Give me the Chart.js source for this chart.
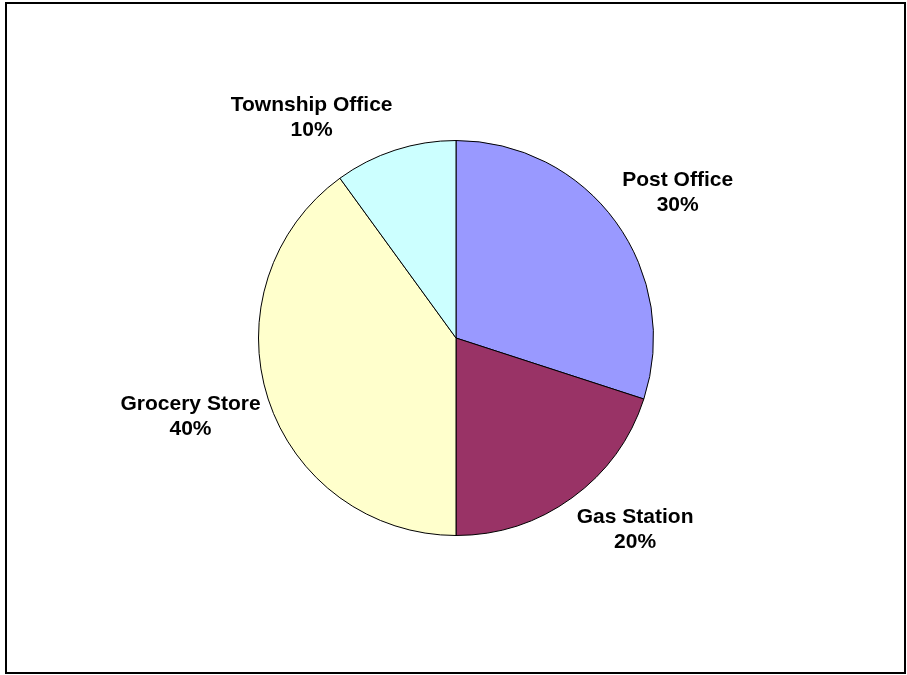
<!DOCTYPE html>
<html>
<head>
<meta charset="utf-8">
<script src="https://cdn.jsdelivr.net/npm/chart.js@4/dist/chart.umd.min.js"></script>
<style>
  html, body { margin: 0; padding: 0; background: #fff; }
  canvas { display: block; }
</style>
</head>
<body>
<canvas id="pieChart" width="907" height="675"></canvas>
<script>
var categories = ['Post Office', 'Gas Station', 'Grocery Store', 'Township Office'];
var shares = [30, 20, 40, 10];
var sliceColors = ['#9999FF', '#993366', '#FFFFCC', '#CCFFFF'];

var labelFont = 'bold 21px Arial, "Liberation Sans", sans-serif';
var lineHeight = 25;

// frame round the whole chart + white background
var framePlugin = {
    id: 'frame',
    beforeDraw: function(chart) {
        var c = chart.ctx;
        c.save();
        c.fillStyle = '#fff';
        c.fillRect(0, 0, chart.width, chart.height);
        c.strokeStyle = '#000';
        c.lineWidth = 2;
        c.strokeRect(6, 3, 899, 670);
        c.restore();
    }
};

// category name + percent outside each slice
var outsideLabels = {
    id: 'outsideLabels',
    afterDatasetsDraw: function(chart) {
        var c = chart.ctx;
        var meta = chart.getDatasetMeta(0);
        var values = chart.data.datasets[0].data;
        var total = values.reduce((t, v) => t + v, 0);
        c.save();
        c.font = labelFont;
        c.fillStyle = '#000';
        c.textAlign = 'center';
        c.textBaseline = 'middle';
        meta.data.forEach(function(arc, i) {
            var p = arc.getProps(['x', 'y', 'startAngle', 'endAngle', 'outerRadius'], true);
            var mid = (p.startAngle + p.endAngle) / 2;
            var r = p.outerRadius + 8;
            var ax = p.x + Math.cos(mid) * r;
            var ay = p.y + Math.sin(mid) * r;
            var lines = [chart.data.labels[i], Math.round(values[i] / total * 100) + '%'];
            var w = Math.max.apply(null, lines.map(t => c.measureText(t).width));
            var h = lines.length * lineHeight;
            // box sits beside the anchor point, leaning away from the pie
            var dx = Math.cos(mid) >= 0 ? 1 : -1;
            var dy = Math.max(-1, Math.min(1, Math.sin(mid) / 0.5));
            var cx = ax + dx * w / 2;
            var cy = ay + dy * h / 2;
            lines.forEach(function(t, k) {
                c.fillText(t, cx, cy - h / 2 + lineHeight * (k + 0.5));
            });
        });
        c.restore();
    }
};

var ctx = document.getElementById('pieChart').getContext('2d');

var pieChart = new Chart(ctx, {
    type: 'pie',
    data: {
        labels: categories,
        datasets: [{
            data: shares,
            backgroundColor: sliceColors,
            borderColor: '#000',
            borderWidth: 1
        }]
    },
    options: {
        responsive: false,
        animation: false,
        layout: { padding: { left: 258, right: 253, top: 140, bottom: 139 } },
        plugins: {
            legend: { display: false },
            tooltip: { enabled: false }
        }
    },
    plugins: [framePlugin, outsideLabels]
});
</script>
</body>
</html>
